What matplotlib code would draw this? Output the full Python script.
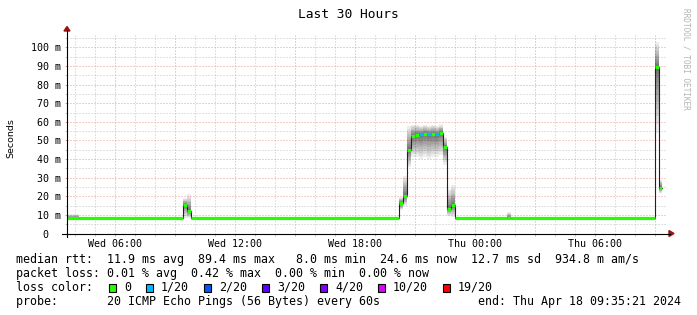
import numpy as np
import matplotlib
matplotlib.use('Agg')
import matplotlib.pyplot as plt
import matplotlib.dates as mdates
from matplotlib.ticker import MultipleLocator, FuncFormatter
from matplotlib.lines import Line2D
from matplotlib.patches import Rectangle, Polygon
from datetime import datetime, timedelta

# time window: last 30 hours, ending Thu Apr 18 09:35:21 2024
end_time = datetime(2024, 4, 18, 9, 35, 21)
start_time = end_time - timedelta(hours=30)

# median rtt, as steps (hours after start)
seg_start_h = [0.0, 0.6, 5.78, 6.02, 6.19, 16.6, 16.8, 16.98, 17.19, 17.4, 17.6,
               17.8, 18.0, 18.2, 18.4, 18.6, 18.8, 19.0, 19.2, 19.4, 21.98, 22.18,
               29.38, 29.58]
last_end_h = 29.75
median_ms = [8.2, 8.2, 15.5, 12.0, 8.2, 16.5, 20.3, 45.0, 52.5, 53.0, 53.2,
             53.6, 53.3, 53.5, 53.2, 54.1, 46.4, 13.3, 15.4, 8.2, 8.2, 8.2,
             89.4, 24.6]
loss_idx = [0, 0, 0, 0, 0, 0, 0, 0, 0, 0, 1,
            0, 1, 0, 1, 0, 0, 0, 0, 0, 0, 0,
            0, 0]
smoke_lo = [7.9, 7.9, 8.5, 8.5, 7.9, 12.4, 15.0, 35.6, 41.0, 41.0, 40.0,
            41.0, 40.0, 41.0, 41.0, 42.0, 37.0, 9.5, 9.0, 7.9, 7.9, 7.9,
            54.0, 21.5]
smoke_hi = [10.5, 8.9, 19.0, 21.0, 8.9, 19.5, 31.0, 58.0, 58.5, 58.5, 58.0,
            58.5, 58.0, 58.5, 58.0, 58.6, 52.0, 24.0, 25.8, 8.9, 11.5, 8.9,
            103.0, 29.0]

loss_labels = ['0', '1/20', '2/20', '3/20', '4/20', '10/20', '19/20']
loss_colors = ['#26ff00', '#00b8ff', '#0059ff', '#5e00ff', '#7e00ff', '#dd00ff', '#ff0000']

legend_rtt = "median rtt:  11.9 ms avg  89.4 ms max   8.0 ms min  24.6 ms now  12.7 ms sd  934.8 m am/s"
legend_loss = "packet loss: 0.01 % avg  0.42 % max  0.00 % min  0.00 % now"
legend_probe = "probe:       20 ICMP Echo Pings (56 Bytes) every 60s"
legend_end = "end: Thu Apr 18 09:35:21 2024"

W, H = 697, 315
fs_tick = 7.2
fs_leg = 8.4
mono = 'DejaVu Sans Mono'
plt.rcParams['font.family'] = mono
minor_c = '#c4c4c4'
major_c = '#e89a9a'

fig = plt.figure(figsize=(W / 100, H / 100), dpi=100)
fig.patch.set_facecolor('white')

def fx(x):
    return x / W

def fy(y):
    return 1 - y / H

ax = fig.add_axes([fx(67), fy(233.5), 600 / W, 201 / H])

t_edges = [start_time + timedelta(hours=h) for h in seg_start_h + [last_end_h]]
t_num = mdates.date2num(t_edges)
med = np.array(median_ms)
lo = np.array(smoke_lo)
hi = np.array(smoke_hi)

# smoke: nested bands, darker near the median
n_layers = 12
for k in range(n_layers, 0, -1):
    f = (k / n_layers) ** 1.6
    lo_k = med - (med - lo) * f
    hi_k = med + (hi - med) * f
    ax.fill_between(t_num, np.append(lo_k, lo_k[-1]), np.append(hi_k, hi_k[-1]),
                    step='post', color='black', alpha=0.07, lw=0, antialiased=False)

# median line
ax.step(t_num, np.append(med, med[-1]), where='post', color='#202020', lw=0.8)
cols = [loss_colors[i] for i in loss_idx]
ax.hlines(med, t_num[:-1], t_num[1:], colors=cols, lw=2.3, capstyle='butt')

ax.set_xlim(mdates.date2num(start_time), mdates.date2num(end_time))
ax.set_ylim(0, 108)

ax.xaxis.set_major_locator(mdates.HourLocator(byhour=range(0, 24, 3)))
ax.xaxis.set_minor_locator(mdates.HourLocator())
ax.xaxis.set_major_formatter(FuncFormatter(
    lambda v, _: mdates.num2date(v).strftime('%a %H:%M') if mdates.num2date(v).hour % 6 == 0 else ''))
ax.yaxis.set_major_locator(MultipleLocator(10))
ax.yaxis.set_minor_locator(MultipleLocator(5))
ax.yaxis.set_major_formatter(FuncFormatter(lambda v, _: '0  ' if v == 0 else f'{v:.0f} m'))

ax.grid(which='minor', color=minor_c, lw=0.72, dashes=(1, 2))
ax.grid(which='major', color=major_c, lw=0.72, dashes=(1, 2))
ax.set_axisbelow(True)
ax.tick_params(which='both', direction='out', length=1.5, width=0.72)
ax.tick_params(axis='x', which='major', colors=major_c, labelcolor='black', pad=2.7, labelsize=fs_tick)
ax.tick_params(axis='x', which='minor', colors=minor_c)
ax.tick_params(axis='y', which='major', colors=major_c, labelcolor='black', pad=2.9, labelsize=fs_tick)
ax.tick_params(axis='y', which='minor', colors=minor_c)
for s in ax.spines.values():
    s.set_visible(False)
ax.set_facecolor('white')

# axis lines and arrows
fig.add_artist(Line2D([fx(62), fx(670)], [fy(233.5), fy(233.5)], color='black', lw=0.8))
fig.add_artist(Line2D([fx(67), fx(67)], [fy(237), fy(30)], color='black', lw=0.8))
fig.add_artist(Polygon([[fx(64), fy(31)], [fx(70), fy(31)], [fx(67), fy(26.5)]],
                       closed=True, color='#a01010', transform=fig.transFigure))
fig.add_artist(Polygon([[fx(669), fy(230.5)], [fx(669), fy(236.5)], [fx(674), fy(233.5)]],
                       closed=True, color='#a01010', transform=fig.transFigure))

# texts
fig.text(fx(348), fy(17.7), 'Last 30 Hours', fontsize=9.3, ha='center', va='baseline')
fig.text(fx(11), fy(138.5), 'Seconds', rotation=90, fontsize=6.8, family='DejaVu Sans',
         ha='center', va='center')
fig.text(fx(686), fy(59), 'RRDTOOL / TOBI OETIKER', rotation=270, fontsize=5.6,
         color='#b4b4b4', ha='center', va='center')

fig.text(fx(16), fy(263.3), legend_rtt, fontsize=fs_leg, ha='left', va='baseline')
fig.text(fx(16), fy(277), legend_loss, fontsize=fs_leg, ha='left', va='baseline')
fig.text(fx(16), fy(291), 'loss color:', fontsize=fs_leg, ha='left', va='baseline')
fig.text(fx(16), fy(305), legend_probe, fontsize=fs_leg, ha='left', va='baseline')
fig.text(fx(681), fy(305), legend_end, fontsize=fs_leg, ha='right', va='baseline')

box_x = [109, 146, 204, 262, 320, 378, 443]
for bx, lab, c in zip(box_x, loss_labels, loss_colors):
    fig.add_artist(Rectangle((fx(bx), fy(291.7)), 7 / W, 7.4 / H, facecolor=c,
                             edgecolor='black', lw=0.8, transform=fig.transFigure))
    fig.text(fx(bx + 15), fy(291), lab, fontsize=fs_leg, ha='left', va='baseline')

fig.savefig('out.png', dpi=100)
